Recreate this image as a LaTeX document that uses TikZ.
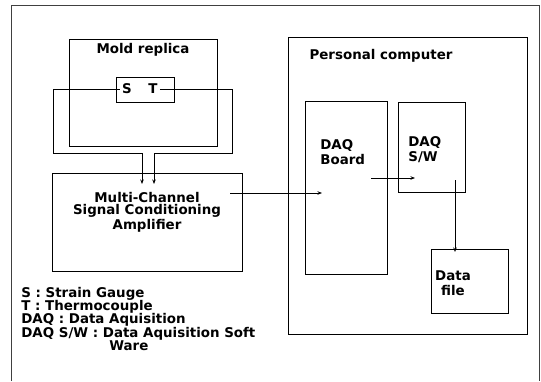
\documentclass[tikz,border=0pt]{standalone}
\usepackage{fontspec}
\setmainfont{DejaVu Sans}
\usetikzlibrary{arrows.meta,positioning}

\begin{document}
\begin{tikzpicture}[x=1pt,y=-1pt,line width=0.7pt,
  font=\fontsize{13.4}{13.4}\selectfont\bfseries,
  box/.style={draw,rectangle,inner sep=0pt},
  txt/.style={inner sep=0pt,align=left},
  sig/.style={-{Stealth[length=4.5pt,width=3.5pt]}}]
  \useasboundingbox (0,0) rectangle (541,381);
  % frame, open at the bottom
  \draw[black!75] (11,381) -- (11,5) -- (539,5) -- (539,381);
  % mold replica with the sensors
  \node[box,minimum width=148pt,minimum height=107pt] (mold) at (143,92.5) {};
  \node[txt,below=4.5pt of mold.north] (moldlbl) {Mold replica};
  \node[box,minimum width=58pt,minimum height=25pt] (st) at (145,89.5) {};
  \node[txt,inner sep=2pt] (s) at (127,89) {S};
  \node[txt,inner sep=2pt] (t) at (153,89) {T};
  % amplifier
  \node[box,minimum width=190pt,minimum height=98pt] (amp) at (147,222) {};
  \node[txt,align=center,font=\fontsize{13.4}{12.6}\selectfont\bfseries] (amplbl) at (147,212) {Multi-Channel\\Signal Conditioning\\Amplifier};
  % personal computer
  \node[box,minimum width=239pt,minimum height=297pt] (pc) at (407.5,185.5) {};
  \node[txt] (pclbl) at (381,56) {Personal computer};
  \node[box,minimum width=82pt,minimum height=173pt] (board) at (346,187.5) {};
  \node[txt,anchor=west,font=\fontsize{13.4}{15}\selectfont\bfseries] (boardlbl) at (320,152) {DAQ\\Board};
  \node[box,minimum width=67pt,minimum height=90pt] (sw) at (431.5,147) {};
  \node[txt,anchor=west,font=\fontsize{13.4}{15}\selectfont\bfseries] (swlbl) at (408,150) {DAQ\\S/W};
  \node[box,minimum width=77pt,minimum height=64pt] (file) at (469.5,281) {};
  \node[txt,align=center,font=\fontsize{13.4}{15}\selectfont\bfseries] (filelbl) at (453,283) {Data\\file};
  % arrow ends inside the boxes
  \coordinate (sin) at (142,184);   \coordinate (tin) at (154,184);
  \coordinate (ampout) at (230,193); \coordinate (boardin) at (322,193);
  \coordinate (boardout) at (371,178); \coordinate (swin) at (415,178);
  \coordinate (swout) at (455,180); \coordinate (filein) at (455,252);
  % signal wires
  \draw[sig] (s.west) -- (53,89) |- (142,153) -- (sin);
  \draw[sig] (t.east) -- (232,89) |- (154,153) -- (tin);
  \draw[sig] (ampout) -- (boardin);
  \draw[sig] (boardout) -- (swin);
  \draw[sig] (swout) -- (filein);
  % legend
  \node[txt,anchor=north west] (legend) at (21,286.5) {S : Strain Gauge\\T : Thermocouple\\DAQ : Data Aquisition\\DAQ S/W : Data Aquisition Soft\\\hspace*{88pt}Ware};
\end{tikzpicture}
\end{document}
